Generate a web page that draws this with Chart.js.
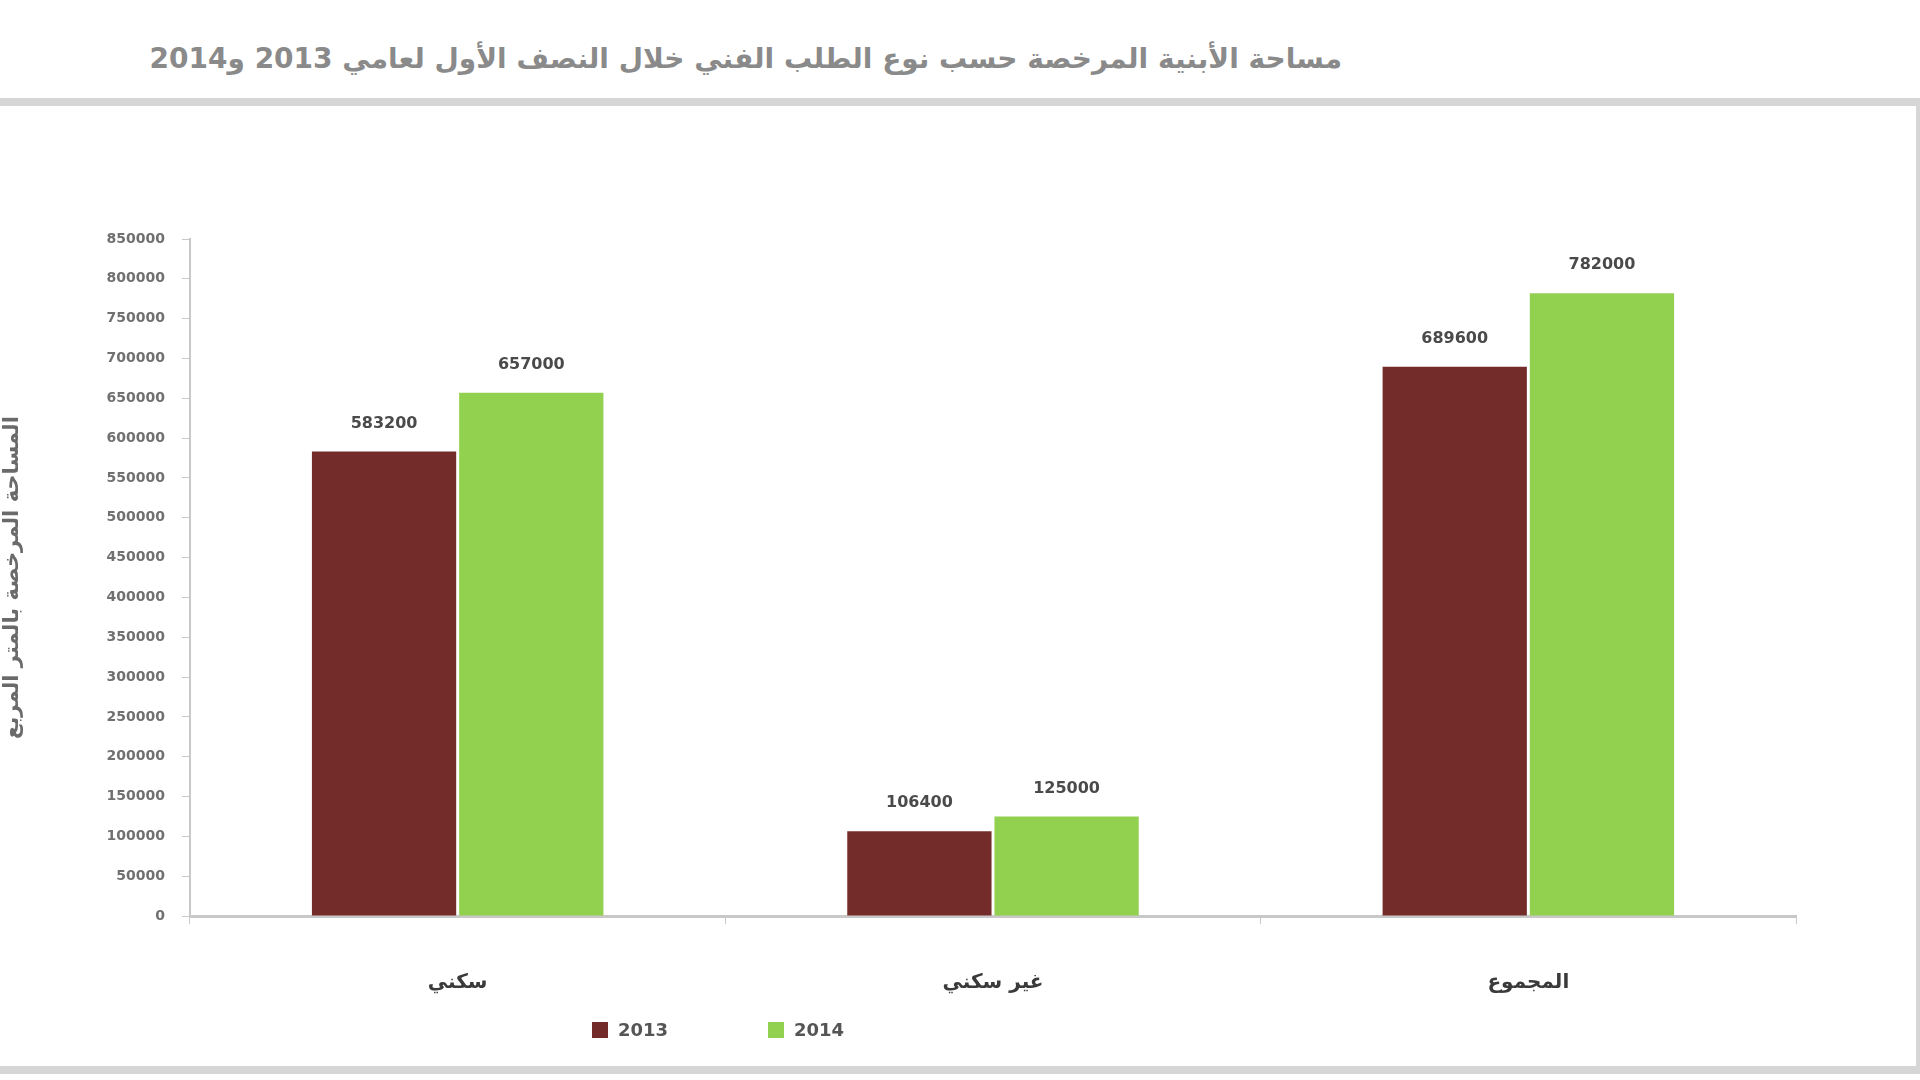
<!DOCTYPE html>
<html lang="ar">
<head>
<meta charset="utf-8">
<script src="https://cdn.jsdelivr.net/npm/chart.js@4.4.1/dist/chart.umd.min.js"></script>
<style>
  html, body { margin: 0; padding: 0; background: #fff; }
  #wrap { position: relative; width: 1920px; height: 1080px; overflow: hidden; }
  #titre {
    position: absolute; left: 100px; top: 42px; width: 1242px;
    direction: rtl; text-align: right;
    font: bold 28px "DejaVu Sans", sans-serif; color: #8a8a8a;
  }
  #cadre {
    position: absolute; left: -12px; top: 98px; width: 1920px; height: 960px;
    border: 8px solid #d6d6d6;
  }
  #zone { position: absolute; left: 0; top: 0; width: 1920px; height: 1080px; }
</style>
</head>
<body>
<div id="wrap">
  <div id="titre">مساحة الأبنية المرخصة حسب نوع الطلب الفني خلال النصف الأول لعامي 2013 و2014</div>
  <div id="cadre"></div>
  <canvas id="zone" width="1920" height="1080"></canvas>
</div>
<script>
/* Données du graphique */
var categories = ["سكني", "غير سكني", "المجموع"];
var annees = ["2013", "2014"];
var valeurs2013 = [583200, 106400, 689600];
var valeurs2014 = [657000, 125000, 782000];
var couleurs = ["#742c2b", "#92d050"];
var titreAxeY = "المساحة المرخصة بالمتر المربع";

// étiquettes au-dessus des barres
var etiquettes = {
  id: "etiquettes",
  afterDatasetsDraw: function(chart){
    var ctx = chart.ctx;
    ctx.save();
    ctx.font = "bold 16px 'DejaVu Sans', sans-serif";
    ctx.fillStyle = "#4a4a4a";
    ctx.textAlign = "center";
    ctx.textBaseline = "middle";
    chart.data.datasets.forEach(function(ds, i){
      chart.getDatasetMeta(i).data.forEach(function(bar, j){
        ctx.fillText(ds.data[j], bar.x, bar.y - 28);
      });
    });
    ctx.restore();
  }
};

// légende dessinée à la main (placée comme dans l'original)
var legende = {
  id: "legende",
  afterDraw: function(chart){
    var ctx = chart.ctx;
    var pos = [592, 768];
    ctx.save();
    ctx.font = "bold 18px 'DejaVu Sans', sans-serif";
    ctx.textBaseline = "middle";
    chart.data.datasets.forEach(function(ds, i){
      ctx.fillStyle = ds.backgroundColor;
      ctx.fillRect(pos[i], 1022, 16, 16);
      ctx.fillStyle = "#555";
      ctx.textAlign = "left";
      ctx.fillText(ds.label, pos[i] + 26, 1031);
    });
    ctx.restore();
  }
};

var ctx = document.getElementById("zone").getContext("2d");

new Chart(ctx, {
  type: "bar",
  data: {
    labels: categories,
    datasets: [{
      label: annees[0],
      data: valeurs2013,
      backgroundColor: couleurs[0],
      borderWidth: 0,
      barPercentage: 0.98,
      categoryPercentage: 0.55
    }, {
      label: annees[1],
      data: valeurs2014,
      backgroundColor: couleurs[1],
      borderWidth: 0,
      barPercentage: 0.98,
      categoryPercentage: 0.55
    }]
  },
  options: {
    responsive: false,
    animation: false,
    layout: {
      padding: { left: 0, right: 124, top: 239, bottom: 0 }
    },
    plugins: {
      legend: { display: false },
      tooltip: { enabled: false }
    },
    scales: {
      y: {
        min: 0,
        max: 850000,
        afterFit: function(s){ s.width = 190; },
        border: { color: "#c8c8c8", width: 2 },
        grid: {
          drawOnChartArea: false,
          drawTicks: true,
          tickLength: 8,
          color: "#c8c8c8"
        },
        ticks: {
          stepSize: 50000,
          padding: 17,
          color: "#707070",
          font: { size: 14, family: "DejaVu Sans", weight: "bold" },
          callback: function(v){ return String(v); }
        },
        title: {
          display: true,
          text: titreAxeY,
          color: "#6a6a6a",
          font: { size: 21, family: "DejaVu Sans", weight: "bold" },
          padding: { top: 0, bottom: 0 }
        }
      },
      x: {
        afterFit: function(s){ s.height = 164; },
        border: { color: "#c8c8c8", width: 3 },
        grid: {
          offset: true,
          drawOnChartArea: false,
          drawTicks: true,
          tickLength: 8,
          color: "#c8c8c8"
        },
        ticks: {
          padding: 47,
          color: "#3a3a3a",
          font: { size: 20, family: "DejaVu Sans", weight: "bold" }
        }
      }
    }
  },
  plugins: [etiquettes, legende]
});
</script>
</body>
</html>
